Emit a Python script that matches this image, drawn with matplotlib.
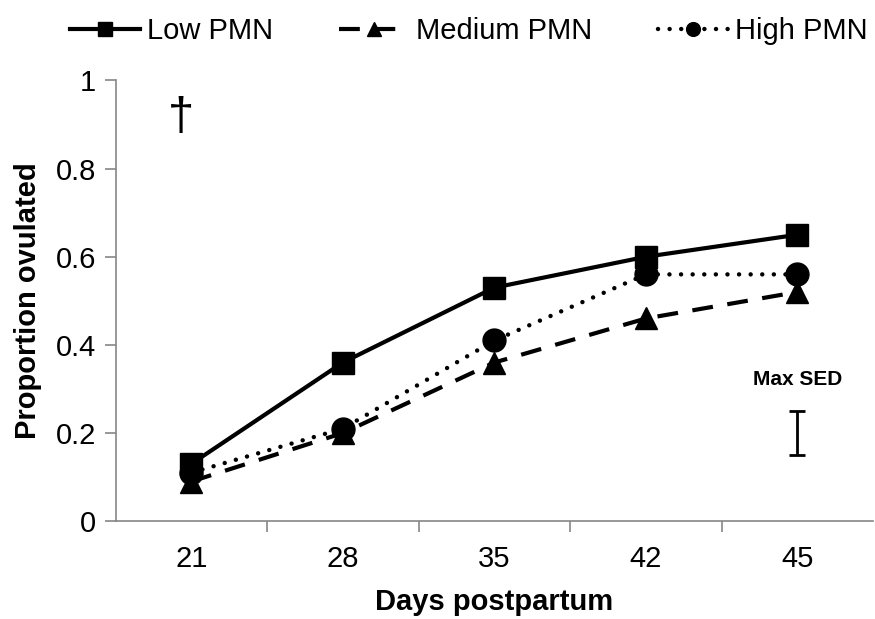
import matplotlib
matplotlib.use("Agg")
import matplotlib.pyplot as plt

plt.rcParams['font.family'] = ['Liberation Sans', 'DejaVu Sans']

days = ["21", "28", "35", "42", "45"]
low_pmn = [0.13, 0.36, 0.53, 0.60, 0.65]
medium_pmn = [0.09, 0.20, 0.36, 0.46, 0.52]
high_pmn = [0.11, 0.21, 0.41, 0.56, 0.56]
max_sed_center = 0.20
max_sed_half = 0.05
yticks = [0, 0.2, 0.4, 0.6, 0.8, 1]
ytick_labels = ["0", "0.2", "0.4", "0.6", "0.8", "1"]

fig = plt.figure(figsize=(8.75, 6.19), dpi=100)
ax = fig.add_axes([0.132, 0.158, 0.866, 0.712])

x = list(range(len(days)))
ax.plot(x, low_pmn, color='black', lw=3, ls='-', marker='s', ms=16.5, label='Low PMN', zorder=3)
ax.plot(x, medium_pmn, color='black', lw=3, ls=(0, (5, 3.5)), marker='^', ms=16.5, label='Medium PMN', zorder=3)
ax.plot(x, high_pmn, color='black', lw=3.2, ls=(0, (0.01, 2.6)), dash_capstyle='round',
        marker='o', ms=16.5, label='High PMN', zorder=3)

ax.errorbar([4], [max_sed_center], yerr=[max_sed_half], color='black', lw=2, capsize=6, capthick=2, fmt='none')
ax.text(4, 0.322, "Max SED", ha='center', va='center', fontsize=15, fontweight='bold')
ax.text(-0.07, 0.915, "\u2020", ha='center', va='center', fontsize=34)

ax.set_xlim(-0.5, 4.5)
ax.set_ylim(0, 1)
ax.set_xticks(x)
ax.set_xticklabels(days, fontsize=21)
ax.set_xticks([0.5, 1.5, 2.5, 3.5], minor=True)
ax.tick_params(axis='x', which='major', length=0, pad=17)
ax.tick_params(axis='x', which='minor', length=8, color='#868686', width=1.2)
ax.set_yticks(yticks)
ax.set_yticklabels(ytick_labels, fontsize=21)
ax.tick_params(axis='y', length=8, color='#868686', width=1.2, pad=6)

for s in ['top', 'right']:
    ax.spines[s].set_visible(False)
for s in ['left', 'bottom']:
    ax.spines[s].set_color('#868686')
    ax.spines[s].set_linewidth(1.2)

ax.set_xlabel("Days postpartum", fontsize=21, fontweight='bold', labelpad=11)
ax.set_ylabel("Proportion ovulated", fontsize=21, fontweight='bold', labelpad=10)

fig.legend(loc='upper center', bbox_to_anchor=(0.536, 1.015), ncol=3, frameon=False, fontsize=21,
           handlelength=2.4, handletextpad=0.25, columnspacing=2.25, markerscale=0.6)

fig.savefig("out.png", dpi=100)
